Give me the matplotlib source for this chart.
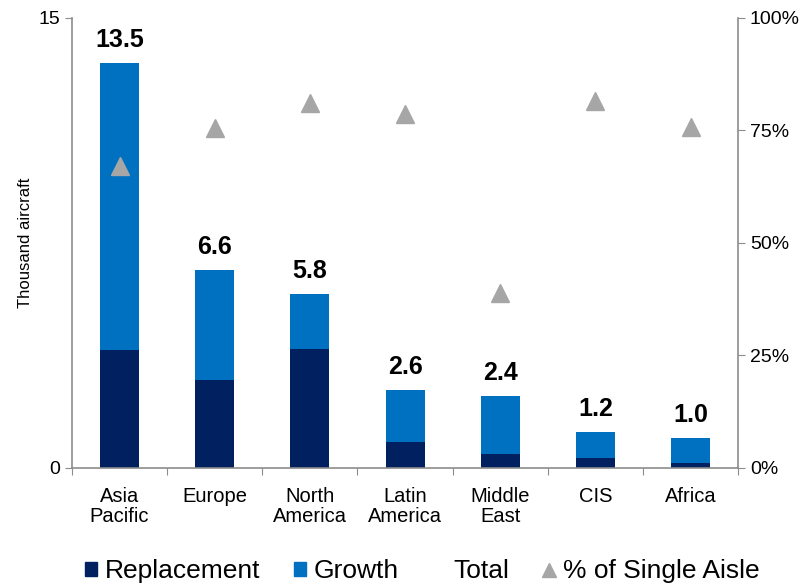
import matplotlib.pyplot as plt
from matplotlib.patches import Patch
from matplotlib.lines import Line2D
from matplotlib.ticker import FuncFormatter

plt.rcParams["font.family"] = ["Liberation Sans", "DejaVu Sans"]

# data
regions = ["Asia\nPacific", "Europe", "North\nAmerica", "Latin\nAmerica", "Middle\nEast", "CIS", "Africa"]
replacement = [3.93, 2.93, 3.97, 0.87, 0.47, 0.33, 0.17]
total = [13.5, 6.6, 5.8, 2.6, 2.4, 1.2, 1.0]
growth = [t - r for t, r in zip(total, replacement)]
single_aisle = [67.0, 75.5, 81.0, 78.7, 38.9, 81.6, 75.8]

c_repl = "#002060"
c_grow = "#0070C0"
c_tri = "#A6A6A6"
c_axis = "#8C8C8C"

fig = plt.figure(figsize=(8.12, 5.86), dpi=100)
ax = fig.add_axes([0.0887, 0.2014, 0.8203, 0.7679])
x = range(len(regions))

ax.bar(x, replacement, width=0.41, color=c_repl, zorder=2)
ax.bar(x, growth, width=0.41, bottom=replacement, color=c_grow, zorder=2)

for i, t in enumerate(total):
    ax.annotate(f"{t:.1f}", (i, t), xytext=(0, 8), textcoords="offset points",
                ha="center", va="bottom", fontsize=18, fontweight="bold")

ax.set_xlim(-0.5, len(regions) - 0.5)
ax.set_ylim(0, 15)
ax.set_yticks([0, 15])
ax.set_xticks([i + 0.5 for i in range(-1, len(regions))])
ax.set_xticklabels([])
ax.set_xticks(list(x), minor=True)
ax.set_xticklabels(regions, minor=True, fontsize=14.5, linespacing=1.05)
ax.tick_params(axis="x", which="minor", length=0, pad=14)
ax.tick_params(axis="x", which="major", length=5, color=c_axis)
ax.tick_params(axis="y", labelsize=14, length=5, color=c_axis)
ax.set_ylabel("Thousand aircraft", fontsize=12, labelpad=4)

for s in ["top", "right"]:
    ax.spines[s].set_visible(False)
for s in ["left", "bottom"]:
    ax.spines[s].set_color(c_axis)
    ax.spines[s].set_linewidth(1.2)

ax2 = ax.twinx()
ax2.plot(list(x), single_aisle, linestyle="none", marker="^", markersize=13,
         color=c_tri, zorder=3)
ax2.set_ylim(0, 100)
ax2.set_yticks([0, 25, 50, 75, 100])
ax2.yaxis.set_major_formatter(FuncFormatter(lambda v, p: f"{v:.0f}%"))
ax2.tick_params(axis="y", labelsize=14, length=5, color=c_axis)
for s in ["top", "left", "bottom"]:
    ax2.spines[s].set_visible(False)
ax2.spines["right"].set_color(c_axis)
ax2.spines["right"].set_linewidth(1.2)

handles = [
    Patch(color=c_repl),
    Patch(color=c_grow),
    Line2D([], [], linestyle="none"),
    Line2D([], [], linestyle="none", marker="^", markersize=10, color=c_tri),
]
labels = ["Replacement", "Growth", "Total", "% of Single Aisle"]
fig.legend(handles, labels, loc="center", bbox_to_anchor=(0.52, 0.025), ncol=4,
           frameon=False, fontsize=19, handlelength=0.45, handleheight=0.45,
           handletextpad=0.3, columnspacing=1.3)

fig.savefig("out.png", dpi=100)
